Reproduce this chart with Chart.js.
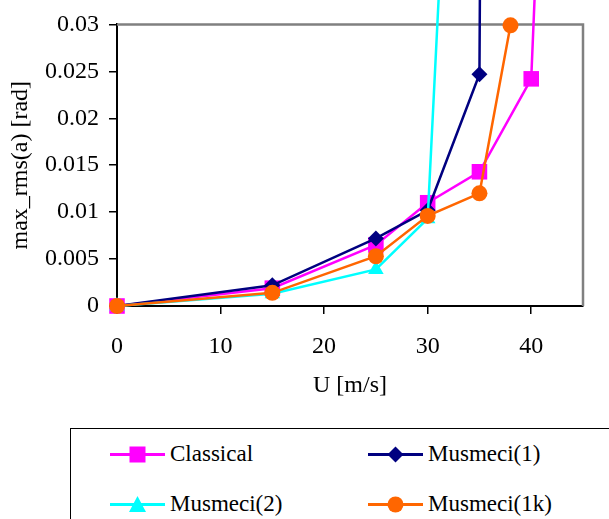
<!DOCTYPE html>
<html>
<head>
<meta charset="utf-8">
<script src="https://cdn.jsdelivr.net/npm/chart.js@4"></script>
<style>
  html, body { margin:0; padding:0; background:#fff; width:609px; height:519px; overflow:hidden; }
  #wrap { position:absolute; left:0; top:0; width:609px; height:400px; }
  #legend { position:absolute; left:70px; top:428px; width:600px; height:120px; border:1px solid #000; box-sizing:border-box;
            font-family:"Liberation Serif","Times New Roman",serif; font-size:23px; color:#000; }
  .item { position:absolute; display:flex; align-items:center; height:30px; }
  .item svg { display:block; }
  .item span { margin-left:5px; white-space:nowrap; }
</style>
</head>
<body>
<div id="wrap"><canvas id="c" width="609" height="400"></canvas></div>
<div id="legend"></div>
<script>
// ---- data ----
const seriesNames = ["Classical", "Musmeci(1)", "Musmeci(2)", "Musmeci(1k)"];
const seriesColors = ["#FF00FF", "#000080", "#00FFFF", "#FF6600"];
const seriesMarkers = ["rect", "rectRot", "triangle", "circle"];
const markerRadius = [11, 8, 9, 8];

const classicalU    = [0, 15, 25, 30, 35, 40, 45];
const classicalVals = [0, 0.0019, 0.0065, 0.0110, 0.0143, 0.0242, 0.156];

const musmeci1U    = [0, 15, 25, 30, 35, 40];
const musmeci1Vals = [0, 0.0022, 0.0072, 0.0102, 0.0247, 1.0];

const musmeci2U    = [0, 15, 25, 30, 35];
const musmeci2Vals = [0, 0.0013, 0.0039, 0.0093, 0.12];

const musmeci1kU    = [0, 15, 25, 30, 35, 38];
const musmeci1kVals = [0, 0.0014, 0.0053, 0.0096, 0.0120, 0.0299];

const xTicks = [0, 10, 20, 30, 40];
const yTicks = [0, 0.005, 0.01, 0.015, 0.02, 0.025, 0.03];
const xTitle = "U [m/s]";
const yTitle = "max_rms(a) [rad]";

const allU = [classicalU, musmeci1U, musmeci2U, musmeci1kU];
const allV = [classicalVals, musmeci1Vals, musmeci2Vals, musmeci1kVals];
const drawOrder = [3, 2, 1, 0]; // later series on top

const datasets = seriesNames.map((name, i) => ({
  label: name,
  data: allU[i].map((u, k) => ({ x: u, y: allV[i][k] })),
  borderColor: seriesColors[i],
  backgroundColor: seriesColors[i],
  pointBackgroundColor: seriesColors[i],
  pointBorderColor: seriesColors[i],
  pointStyle: seriesMarkers[i],
  pointRadius: markerRadius[i],
  pointBorderWidth: 0,
  borderWidth: 2.5,
  tension: 0,
  clip: false,
  order: drawOrder[i]
}));

const FONT = "'Liberation Serif', 'Times New Roman', serif";

const framePlugin = {
  id: 'frame',
  beforeDatasetsDraw(chart) {
    const { ctx, chartArea: a } = chart;
    ctx.save();
    ctx.strokeStyle = '#808080';
    ctx.lineWidth = 2.5;
    ctx.beginPath();
    ctx.moveTo(a.left, a.top);
    ctx.lineTo(a.right, a.top);
    ctx.lineTo(a.right, a.bottom);
    ctx.stroke();
    ctx.restore();
  }
};

new Chart(document.getElementById('c'), {
  type: 'line',
  data: { datasets },
  options: {
    responsive: false,
    animation: false,
    devicePixelRatio: 1,
    layout: { padding: { top: 19, right: 26, left: 0, bottom: 0 } },
    plugins: { legend: { display: false }, tooltip: { enabled: false } },
    scales: {
      x: {
        type: 'linear', min: 0, max: 45,
        afterBuildTicks: s => { s.ticks = xTicks.map(v => ({ value: v })); },
        afterFit: s => { s.height = 94; },
        grid: { drawOnChartArea: false, drawTicks: true, tickLength: 8, color: '#000', lineWidth: 1.5 },
        border: { color: '#000', width: 2 },
        ticks: { color: '#000', font: { family: FONT, size: 24 }, padding: 18, maxRotation: 0, callback: v => String(v) },
        title: { display: true, text: xTitle, color: '#000', font: { family: FONT, size: 24 }, padding: { top: 0, bottom: 0 } }
      },
      y: {
        type: 'linear', min: 0, max: 0.03,
        afterBuildTicks: s => { s.ticks = yTicks.map(v => ({ value: v })); },
        afterFit: s => { s.width = 117; },
        grid: { drawOnChartArea: false, drawTicks: true, tickLength: 8, color: '#000', lineWidth: 1.5 },
        border: { color: '#000', width: 2 },
        ticks: { color: '#000', font: { family: FONT, size: 24 }, padding: 10, callback: v => String(v) },
        title: { display: true, text: yTitle, color: '#000', font: { family: FONT, size: 24 }, padding: { top: 6, bottom: 0 } }
      }
    }
  },
  plugins: [framePlugin]
});

// ---- HTML legend ----
function markerSvg(color, style) {
  let m = '';
  if (style === 'rect') m = `<rect x="19.5" y="7.5" width="16" height="16" fill="${color}"/>`;
  else if (style === 'rectRot') m = `<polygon points="27.5,7.5 35.5,15.5 27.5,23.5 19.5,15.5" fill="${color}"/>`;
  else if (style === 'triangle') m = `<polygon points="27.5,7 36,23 19,23" fill="${color}"/>`;
  else m = `<circle cx="27.5" cy="15.5" r="8" fill="${color}"/>`;
  return `<svg width="55" height="31" viewBox="0 0 55 31"><line x1="0" y1="15.5" x2="55" y2="15.5" stroke="${color}" stroke-width="3"/>${m}</svg>`;
}
const legendPos = [[39, 10], [297, 10], [39, 60], [297, 60]];
const lg = document.getElementById('legend');
seriesNames.forEach((n, i) => {
  const d = document.createElement('div');
  d.className = 'item';
  d.style.left = legendPos[i][0] + 'px';
  d.style.top = legendPos[i][1] + 'px';
  d.innerHTML = markerSvg(seriesColors[i], seriesMarkers[i]) + `<span>${n}</span>`;
  lg.appendChild(d);
});
</script>
</body>
</html>
